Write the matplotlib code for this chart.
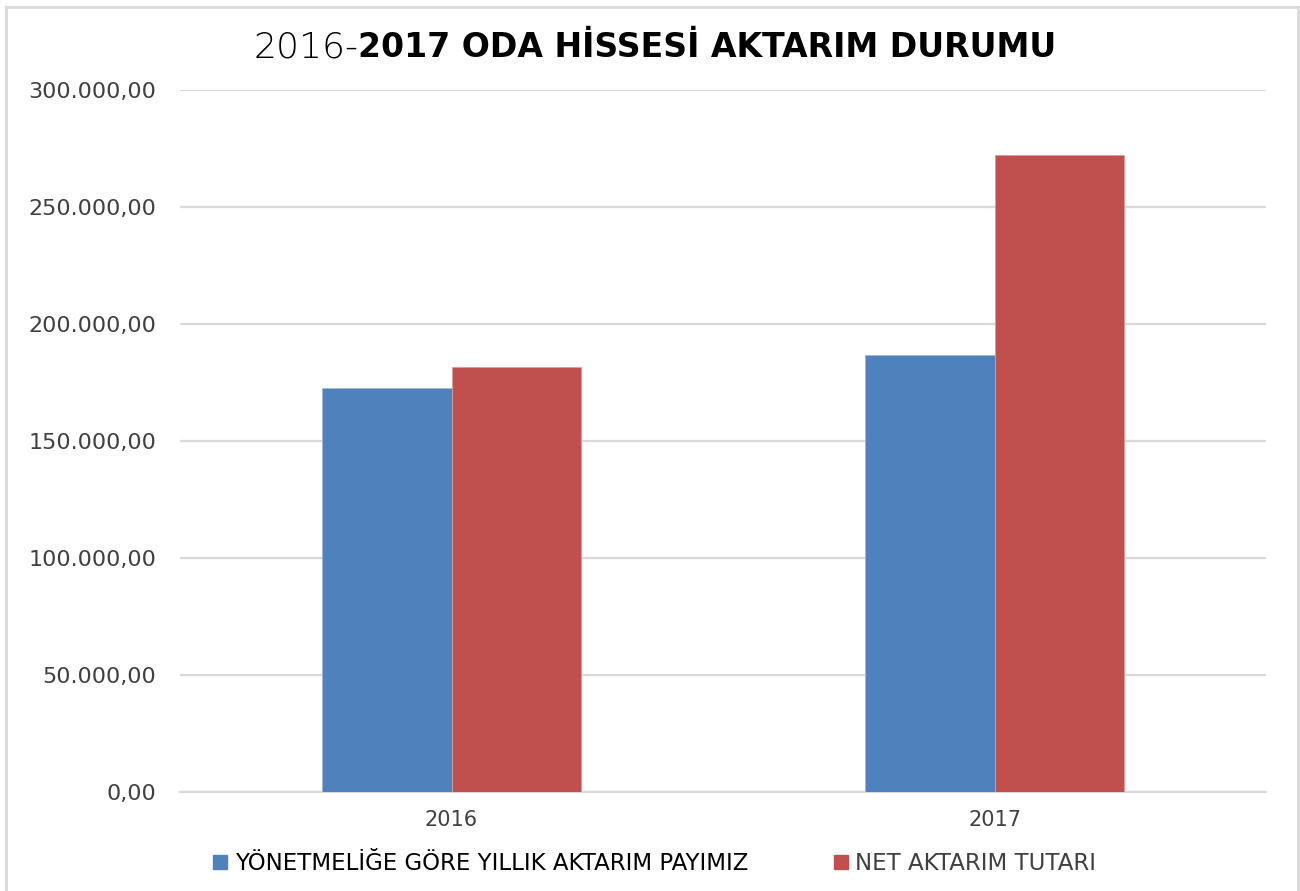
import numpy as np
import matplotlib
matplotlib.use("Agg")
import matplotlib.pyplot as plt
from matplotlib.lines import Line2D

# Data
years = ["2016", "2017"]
yonetmelik = [172800, 186600]
net_aktarim = [181500, 272100]
series_names = ["YÖNETMELİĞE GÖRE YILLIK AKTARIM PAYIMIZ", "NET AKTARIM TUTARI"]
yticks = [0, 50000, 100000, 150000, 200000, 250000, 300000]

BLUE = "#4F81BD"
RED = "#C0504D"
GRID = "#D9D9D9"
TXT = "#404040"

W, H = 1300, 891
fig = plt.figure(figsize=(W / 100, H / 100), dpi=100)
ax = fig.add_axes([180 / W, 1 - 792 / H, (1266 - 180) / W, (792 - 90) / H])

x = np.arange(len(years))
bw = 0.238
ax.bar(x - bw / 2, yonetmelik, bw, color=BLUE, edgecolor="#9DB8DA", linewidth=0.6, zorder=3)
ax.bar(x + bw / 2, net_aktarim, bw, color=RED, edgecolor="#DE9A98", linewidth=0.6, zorder=3)

ax.set_xlim(-0.5, 1.5)
ax.set_ylim(0, 300000)
ax.set_yticks(yticks)
ax.set_yticklabels([f"{v:,.2f}".replace(",", "X").replace(".", ",").replace("X", ".") for v in yticks])
ax.set_xticks(x)
ax.set_xticklabels(years)
ax.grid(axis="y", color=GRID, linewidth=1.6, zorder=0)
for s in ["top", "right", "left"]:
    ax.spines[s].set_visible(False)
ax.spines["bottom"].set_color(GRID)
ax.spines["bottom"].set_linewidth(1.6)
ax.tick_params(axis="y", length=0, pad=17, labelsize=16, labelcolor=TXT)
ax.tick_params(axis="x", length=0, pad=13, labelsize=15, labelcolor=TXT)

# Title: light part + bold part
fig.text(358 / W, 1 - 57 / H, "2016-", ha="right", va="baseline", fontsize=26,
         fontweight="light", color="black")
fig.text(358 / W, 1 - 57 / H, "2017 ODA HİSSESİ AKTARIM DURUMU", ha="left", va="baseline",
         fontsize=23.9, fontweight="bold", color="black")

# Legend
fig.text(235 / W, 1 - 870 / H, series_names[0], ha="left", va="baseline", fontsize=16.5,
         color="black")
fig.text(855 / W, 1 - 870 / H, series_names[1], ha="left", va="baseline", fontsize=16.5,
         color=TXT)
fig.patches.append(plt.Rectangle((213 / W, 1 - 869 / H), 14 / W, 14 / H, transform=fig.transFigure,
                                 color=BLUE, figure=fig))
fig.patches.append(plt.Rectangle((834 / W, 1 - 869 / H), 14 / W, 14 / H, transform=fig.transFigure,
                                 color=RED, figure=fig))

# Outer chart frame
for xs, ys in [([6, 1298], [7, 7]), ([6, 6], [7, 891]), ([1298, 1298], [7, 891])]:
    fig.add_artist(Line2D([v / W for v in xs], [1 - v / H for v in ys], color=GRID, linewidth=2,
                          transform=fig.transFigure))

fig.savefig("out.png", dpi=100)
